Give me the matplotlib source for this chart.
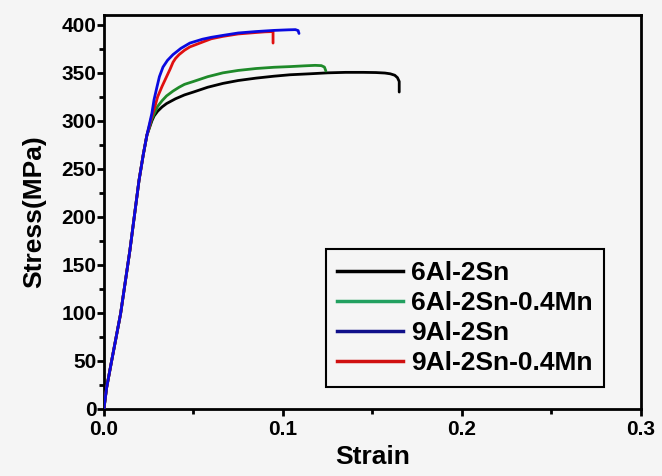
import matplotlib
matplotlib.use("Agg")
import matplotlib.pyplot as plt
from matplotlib.ticker import MultipleLocator, FormatStrFormatter

plt.rcParams['font.family'] = ['Liberation Sans', 'DejaVu Sans']

# shared elastic portion
strain_el = [0.0, 0.0015, 0.0043, 0.0093, 0.0145, 0.0196, 0.0220, 0.0240]
stress_el = [0, 22, 50, 99, 165, 238, 265, 285]

strain_6Al = [0.0268, 0.028, 0.030, 0.0325, 0.035, 0.0375, 0.040, 0.045, 0.050, 0.058, 0.0665,
              0.075, 0.085, 0.095, 0.104, 0.115, 0.125, 0.135, 0.145, 0.152, 0.157, 0.160,
              0.1625, 0.164, 0.165, 0.165]
stress_6Al = [300, 305, 310, 314.5, 318, 320.5, 323, 327, 330, 335, 339,
              342, 344.5, 346.5, 348, 349, 350, 350.5, 350.5, 350.3, 349.8, 349,
              347.5, 345, 341, 330]

strain_6AlMn = [0.0268, 0.0285, 0.030, 0.0325, 0.035, 0.0386, 0.042, 0.045, 0.050, 0.058, 0.0665,
                0.075, 0.085, 0.095, 0.104, 0.112, 0.118, 0.1215, 0.1232, 0.124]
stress_6AlMn = [302, 309, 315, 321, 326, 331, 335, 338, 341, 346, 350,
                352.5, 354.5, 355.8, 356.5, 357.3, 357.8, 357.5, 356, 352]

strain_9Al = [0.0268, 0.028, 0.0296, 0.031, 0.033, 0.0355, 0.0386, 0.043, 0.048, 0.055, 0.060,
              0.0665, 0.075, 0.085, 0.095, 0.103, 0.107, 0.1085, 0.109]
stress_9Al = [308, 322, 335, 346, 356, 363, 369, 375.5, 381, 385, 387,
              389, 391.5, 393, 394.2, 394.8, 395, 394, 391]

strain_9AlMn = [0.0268, 0.0285, 0.030, 0.0325, 0.035, 0.037, 0.0386, 0.040, 0.042, 0.045, 0.048,
                0.055, 0.060, 0.0665, 0.075, 0.085, 0.090, 0.0945, 0.0945]
stress_9AlMn = [305, 315, 325, 336, 346, 354, 361, 365, 369, 373.5, 377,
                382, 385.5, 388, 390.5, 392, 392.7, 393, 381]

labels = ['6Al-2Sn', '6Al-2Sn-0.4Mn', '9Al-2Sn', '9Al-2Sn-0.4Mn']
colors = ['#000000', '#1f8a2a', '#0a0ae0', '#e01010']
legend_colors = ['#000000', '#22a060', '#10108a', '#d01010']

bg = '#f5f5f5'
fig = plt.figure(figsize=(6.62, 4.76), dpi=100, facecolor=bg)
ax = fig.add_axes([0.157, 0.141, 0.811, 0.827], facecolor=bg)

series = [(strain_6Al, stress_6Al), (strain_6AlMn, stress_6AlMn),
          (strain_9Al, stress_9Al), (strain_9AlMn, stress_9AlMn)]
order = [0, 1, 3, 2]
for i in order:
    xs, ys = series[i]
    ax.plot(strain_el + xs, stress_el + ys, color=colors[i], lw=2.0, zorder=3 + order.index(i),
            solid_capstyle='round', solid_joinstyle='round')

ax.set_xlim(0, 0.3)
ax.set_ylim(0, 410)
ax.xaxis.set_major_locator(MultipleLocator(0.1))
ax.xaxis.set_minor_locator(MultipleLocator(0.05))
ax.yaxis.set_major_locator(MultipleLocator(50))
ax.yaxis.set_minor_locator(MultipleLocator(25))
ax.xaxis.set_major_formatter(FormatStrFormatter('%.1f'))

for s in ax.spines.values():
    s.set_linewidth(2.0)
ax.tick_params(which='both', direction='out', width=2.0, top=False, right=False)
ax.tick_params(which='major', length=5)
ax.tick_params(which='minor', length=3.5)
ax.tick_params(axis='x', labelsize=15, pad=3)
ax.tick_params(axis='y', labelsize=15, pad=0.5)
for lab in ax.get_xticklabels() + ax.get_yticklabels():
    lab.set_fontweight('bold')

ax.set_xlabel('Strain', fontsize=19, fontweight='bold', labelpad=4)
ax.set_ylabel('Stress(MPa)', fontsize=19, fontweight='bold', labelpad=11)

handles = [plt.Line2D([], [], color=c, lw=2.5) for c in legend_colors]
leg = ax.legend(handles, labels, loc='lower left', bbox_to_anchor=(0.413, 0.056),
                borderaxespad=0, handlelength=2.5, handletextpad=0.3,
                labelspacing=0.23, borderpad=0.44, fancybox=False, frameon=True,
                prop={'size': 19, 'weight': 'bold'})
leg.get_frame().set_edgecolor('black')
leg.get_frame().set_linewidth(1.5)
leg.get_frame().set_facecolor(bg)
leg.get_frame().set_alpha(1)

fig.savefig('out.png', dpi=100, facecolor=bg)
